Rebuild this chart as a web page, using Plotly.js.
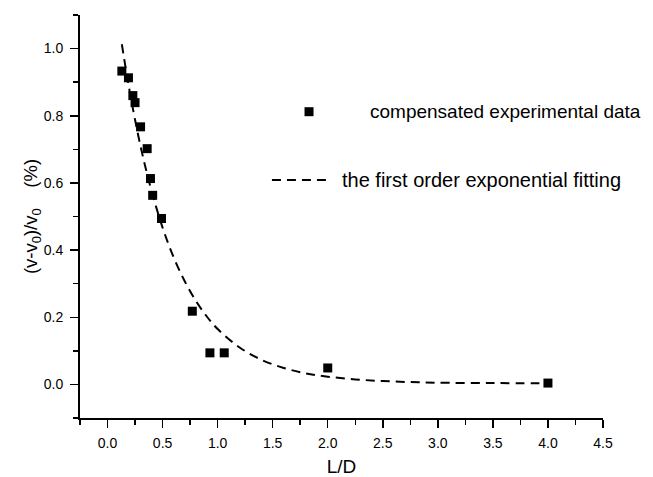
<!DOCTYPE html>
<html>
<head>
<meta charset="utf-8">
<script src="https://cdn.plot.ly/plotly-3.0.1.min.js"></script>
<style>html,body{margin:0;padding:0;background:#fff;}#chart{width:653px;height:477px;}</style>
</head>
<body>
<div id="chart"></div>
<script>
// Measured data: compensated experimental data
var ldValues = [0.13, 0.19, 0.23, 0.25, 0.30, 0.36, 0.39, 0.41, 0.49, 0.77, 0.93, 1.06, 2.00, 4.00];
var ratioValues = [0.933, 0.913, 0.860, 0.839, 0.767, 0.702, 0.613, 0.563, 0.494, 0.218, 0.094, 0.094, 0.049, 0.004];

// First order exponential fitting curve
var fitX = [0.13, 0.20, 0.30, 0.40, 0.50, 0.60, 0.70, 0.80, 0.90, 1.00, 1.20, 1.40, 1.60, 1.80, 2.00, 2.25, 2.50, 2.75, 3.00, 3.50, 4.00];
var fitY = [1.013, 0.875, 0.709, 0.576, 0.467, 0.379, 0.308, 0.250, 0.203, 0.165, 0.110, 0.073, 0.049, 0.033, 0.023, 0.015, 0.010, 0.007, 0.005, 0.004, 0.003];

var legendLabels = ["compensated experimental data", "the first order exponential fitting"];
var xTitle = "L/D";
var yTitle = "(v-v<sub>0</sub>)/v<sub>0</sub>    (%)";

var FONT = "Liberation Sans, Arial, sans-serif";

var traces = [
  {
    x: fitX, y: fitY, type: "scatter", mode: "lines",
    line: {color: "#000", width: 2, dash: "9px,6px", shape: "spline"},
    name: legendLabels[1], showlegend: false, hoverinfo: "skip"
  },
  {
    x: ldValues, y: ratioValues, type: "scatter", mode: "markers",
    marker: {symbol: "square", size: 9, color: "#000"},
    name: legendLabels[0], showlegend: false
  }
];

var axisCommon = {
  showline: true, linecolor: "#000", linewidth: 2,
  ticks: "outside", ticklen: 8, tickwidth: 1.5, tickcolor: "#000",
  showgrid: false, zeroline: false, mirror: false,
  tickfont: {family: FONT, size: 14, color: "#000"},
  tickformat: ".1f"
};

var layout = {
  width: 653, height: 477,
  margin: {l: 80, r: 50, t: 15, b: 59},
  paper_bgcolor: "#fff", plot_bgcolor: "#fff",
  font: {family: FONT, color: "#000"},
  xaxis: Object.assign({}, axisCommon, {
    range: [-0.25, 4.5], tick0: 0, dtick: 0.5,
    ticklabelstandoff: 3,
    minor: {dtick: 0.25, ticks: "outside", ticklen: 5, tickwidth: 1.5, tickcolor: "#000"},
    title: {text: xTitle, font: {family: FONT, size: 19, color: "#000"}, standoff: 10}
  }),
  yaxis: Object.assign({}, axisCommon, {
    range: [-0.1, 1.1], tick0: 0, dtick: 0.2,
    ticklabelstandoff: 4,
    minor: {dtick: 0.1, ticks: "outside", ticklen: 5, tickwidth: 1.5, tickcolor: "#000"},
    title: {text: yTitle, font: {family: FONT, size: 18.5, color: "#000"}, standoff: 0}
  }),
  shapes: [
    {type: "rect", xref: "paper", yref: "paper", x0: 0.4293, x1: 0.4465, y0: 0.7489, y1: 0.7712,
     fillcolor: "#000", line: {width: 0}},
    {type: "line", xref: "paper", yref: "paper", x0: 0.367, x1: 0.474, y0: 0.5906, y1: 0.5906,
     line: {color: "#000", width: 2, dash: "9px,6px"}}
  ],
  annotations: [
    {xref: "paper", yref: "paper", x: 0.5507, y: 0.760, xanchor: "left", yanchor: "middle",
     text: legendLabels[0], showarrow: false, font: {family: FONT, size: 19, color: "#000"}},
    {xref: "paper", yref: "paper", x: 0.497, y: 0.5906, xanchor: "left", yanchor: "middle",
     text: legendLabels[1], showarrow: false, font: {family: FONT, size: 20, color: "#000"}}
  ],
  showlegend: false
};

Plotly.newPlot("chart", traces, layout, {displayModeBar: false, staticPlot: true});
</script>
</body>
</html>
